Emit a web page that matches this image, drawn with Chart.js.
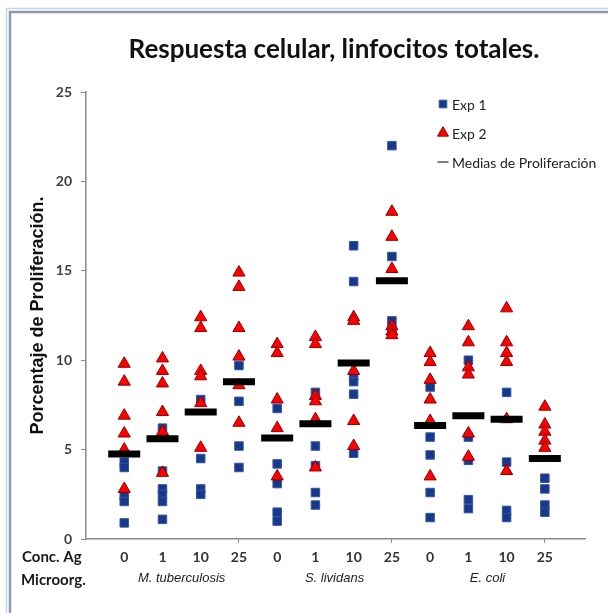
<!DOCTYPE html>
<html>
<head>
<meta charset="utf-8">
<script src="https://cdn.jsdelivr.net/npm/chart.js@4.4.0/dist/chart.umd.min.js"></script>
<style>
  html, body { margin: 0; padding: 0; background: #fff; }
  #wrap { position: relative; width: 608px; height: 613px; }
</style>
</head>
<body>
<div id="wrap"><canvas id="chart" width="608" height="613"></canvas></div>
<script>
// Respuesta celular, linfocitos totales
const concLabels = ['0', '1', '10', '25', '0', '1', '10', '25', '0', '1', '10', '25'];
const organisms = ['M. tuberculosis', 'S. lividans', 'E. coli'];
const yTicks = [0, 5, 10, 15, 20, 25];
const xMajorTicks = [4, 8, 12];

// one list per concentration column
const exp1Values = [
    [4.3, 4.0, 2.4, 2.1, 0.9],
    [6.2, 3.8, 2.8, 2.5, 2.1, 1.1],
    [7.8, 4.5, 2.8, 2.5],
    [9.7, 7.7, 5.2, 4.0],
    [7.3, 4.2, 3.1, 1.5, 1.0],
    [8.2, 5.2, 4.1, 2.6, 1.9],
    [16.4, 14.4, 9.1, 8.8, 8.1, 4.8],
    [22.0, 15.8, 12.2, 11.7],
    [8.5, 5.7, 4.7, 2.6, 1.2],
    [10.0, 5.7, 4.4, 2.2, 1.7],
    [8.2, 4.3, 1.6, 1.2],
    [3.4, 2.8, 1.9, 1.5]
];
const exp2Values = [
    [9.8, 8.8, 6.9, 5.9, 5.0, 2.8],
    [10.1, 9.4, 8.7, 7.1, 6.0, 3.7],
    [12.4, 11.8, 9.4, 9.1, 7.6, 5.1],
    [14.9, 14.1, 11.8, 10.2, 8.6, 6.5],
    [10.9, 10.4, 7.8, 6.2, 3.5],
    [11.3, 10.9, 8.0, 7.7, 6.7, 4.0],
    [12.4, 12.2, 9.4, 6.6, 5.2],
    [18.3, 16.9, 15.1, 11.9, 11.6, 11.4],
    [10.4, 9.9, 8.9, 7.8, 6.6, 3.5],
    [11.9, 11.0, 9.6, 9.2, 5.9, 4.6],
    [12.9, 11.0, 10.4, 9.9, 6.7, 3.8],
    [7.4, 6.4, 6.0, 5.5, 5.1]
];
const meanValues = [4.75, 5.6, 7.1, 8.8, 5.65, 6.45, 9.85, 14.45, 6.35, 6.9, 6.7, 4.5];

const toPoints = lists => lists.flatMap((vals, i) => vals.map(v => ({ x: i + 1, y: v })));

const axisColor = '#8a8a8a';
const tickFont = { family: 'Lato', weight: 'bold', size: 14 };

// double frame line around the picture (top and left are visible)
const framePlugin = {
    id: 'frame',
    beforeDraw(chart) {
        const ctx = chart.ctx;
        ctx.save();
        ctx.fillStyle = '#fff';
        ctx.fillRect(0, 0, chart.width, chart.height);
        ctx.lineWidth = 1.5;
        ctx.strokeStyle = '#c3d3ea';
        ctx.beginPath();
        ctx.moveTo(6.5, chart.height);
        ctx.lineTo(6.5, 8.5);
        ctx.lineTo(chart.width, 8.5);
        ctx.stroke();
        ctx.lineWidth = 2.5;
        ctx.strokeStyle = '#8d99aa';
        ctx.beginPath();
        ctx.moveTo(10, chart.height);
        ctx.lineTo(10, 12);
        ctx.lineTo(chart.width, 12);
        ctx.stroke();
        ctx.restore();
    }
};

const decorPlugin = {
    id: 'decor',
    afterDraw(chart) {
        const ctx = chart.ctx;
        const xs = chart.scales.x;
        ctx.save();

        // title
        ctx.fillStyle = '#111';
        ctx.font = 'bold 26px Lato';
        ctx.textAlign = 'center';
        ctx.textBaseline = 'middle';
        ctx.fillText('Respuesta celular, linfocitos totales.', 334, 50);

        // legend, markers taken from the datasets
        const ds = chart.data.datasets;
        const items = [ds[2], ds[1], ds[0]];
        const legendX = 443;
        ctx.font = '14px Lato';
        ctx.textAlign = 'left';
        items.forEach((d, i) => {
            const y = 104 + i * 29;
            ctx.fillStyle = d.backgroundColor;
            ctx.strokeStyle = d.borderColor;
            const r = d.pointStyle === 'line' ? 5.5 : d.pointRadius * 0.9;
            Chart.helpers.drawPoint(ctx, {
                pointStyle: d.pointStyle,
                radius: r,
                borderWidth: d.pointStyle === 'line' ? 3 : 1,
                rotation: 0
            }, legendX, y);
            ctx.fillStyle = '#222';
            ctx.fillText(d.label, legendX + 9, y + 1);
        });

        // row captions under the x axis
        ctx.fillStyle = '#1a1a1a';
        ctx.font = 'bold 15px Lato';
        ctx.textAlign = 'left';
        ctx.fillText('Conc. Ag', 22, 557);
        ctx.fillText('Microorg.', 21, 580);

        ctx.font = 'italic 13px "Liberation Sans"';
        ctx.textAlign = 'center';
        ctx.fillStyle = '#222';
        organisms.forEach((name, i) => {
            ctx.fillText(name, xs.getPixelForValue(i * 4 + 2.5), 578);
        });
        ctx.restore();
    }
};

new Chart(document.getElementById('chart'), {
    type: 'scatter',
    data: {
        datasets: [
            {
                label: 'Medias de Proliferación',
                data: meanValues.map((v, i) => ({ x: i + 1, y: v })),
                pointStyle: 'line',
                pointRadius: 16,
                pointBorderWidth: 7,
                borderColor: '#000',
                backgroundColor: '#000',
                order: 0
            },
            {
                label: 'Exp 2',
                data: toPoints(exp2Values),
                pointStyle: 'triangle',
                pointRadius: 7,
                pointBorderWidth: 1,
                backgroundColor: '#ff0000',
                borderColor: '#8f0000',
                order: 1
            },
            {
                label: 'Exp 1',
                data: toPoints(exp1Values),
                pointStyle: 'rect',
                pointRadius: 6,
                pointBorderWidth: 1,
                backgroundColor: '#183888',
                borderColor: '#3355a5',
                order: 2
            }
        ]
    },
    options: {
        responsive: false,
        animation: false,
        layout: { padding: { top: 92, right: 0, bottom: 0, left: 0 } },
        plugins: {
            legend: { display: false },
            tooltip: { enabled: false },
            title: { display: false }
        },
        scales: {
            x: {
                type: 'linear',
                min: 0,
                max: 13.05,
                afterBuildTicks: s => { s.ticks = concLabels.map((c, i) => ({ value: i + 1 })); },
                afterFit: s => { s.height = 74; },
                ticks: {
                    callback: v => concLabels[v - 1],
                    autoSkip: false,
                    maxRotation: 0,
                    padding: 6,
                    color: '#333',
                    font: tickFont
                },
                grid: {
                    drawOnChartArea: false,
                    tickLength: 4,
                    tickColor: c => (c.tick && xMajorTicks.includes(c.tick.value)) ? axisColor : 'rgba(0,0,0,0)'
                },
                border: { color: axisColor, width: 1.5 }
            },
            y: {
                min: 0,
                max: 25,
                afterBuildTicks: s => { s.ticks = yTicks.map(v => ({ value: v })); },
                afterFit: s => { s.width = 86; },
                ticks: {
                    padding: 9,
                    color: '#404040',
                    font: tickFont
                },
                grid: {
                    drawOnChartArea: false,
                    tickLength: 5,
                    tickColor: axisColor
                },
                border: { color: axisColor, width: 1.5 },
                title: {
                    display: true,
                    text: 'Porcentaje de Proliferación.',
                    color: '#111',
                    font: { family: 'Liberation Sans', weight: 'bold', size: 18 },
                    padding: { top: 27, bottom: 0 }
                }
            }
        }
    },
    plugins: [framePlugin, decorPlugin]
});
</script>
</body>
</html>
